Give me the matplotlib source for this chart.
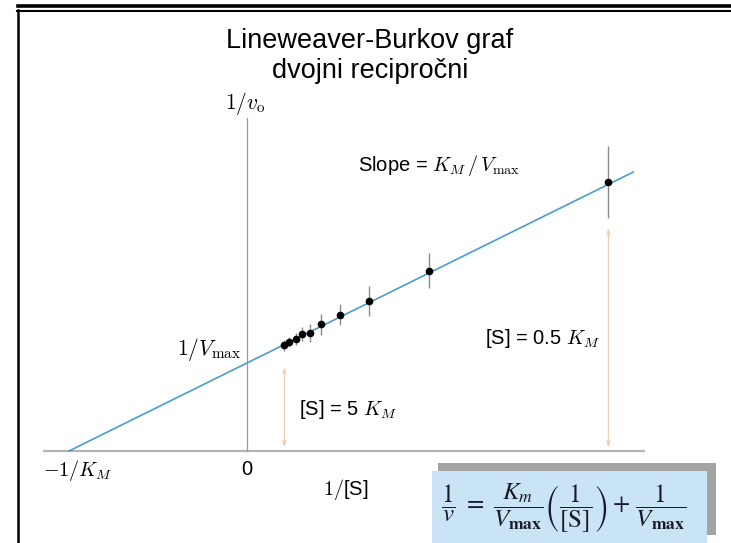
import matplotlib
matplotlib.use("Agg")
import matplotlib.pyplot as plt
from matplotlib.lines import Line2D
from matplotlib.patches import Rectangle

# 1/[S] and 1/v values in units of 1/K_M and 1/V_max
inv_s = [0.21, 0.235, 0.275, 0.31, 0.355, 0.415, 0.52, 0.685, 1.02, 2.03]
inv_v = [1.20, 1.24, 1.27, 1.33, 1.34, 1.44, 1.55, 1.70, 2.05, 3.06]
inv_v_err = [0.06, 0.06, 0.07, 0.08, 0.10, 0.12, 0.12, 0.17, 0.20, 0.41]

# fitted line end points
fit_x = [-1.0, 2.17]
fit_y = [0.0, 3.17]

# double arrows marking [S] = 5 K_M and [S] = 0.5 K_M
arrow_x = [0.21, 2.03]
arrow_lo = [0.045, 0.045]
arrow_hi = [0.95, 2.53]

W, H = 731, 543
fig = plt.figure(figsize=(W / 100, H / 100), dpi=100)
ax = fig.add_axes([0, 0, 1, 1])
ax.axis("off")

# pixel anchors of the origin and unit lengths
x0, y0, ux, uy = 247, 451, 178, 88
ax.set_xlim(-x0 / ux, (W - x0) / ux)
ax.set_ylim(-(H - y0) / uy, y0 / uy)

# axes
ax.plot([-1.146, 2.236], [0, 0], color="#b4b4b4", lw=1.6, solid_capstyle="butt")
ax.plot([0, 0], [0, 3.78], color="#9a9a9a", lw=0.9)

ax.plot(fit_x, fit_y, color="#4a9dcb", lw=1.2)
ax.errorbar(inv_s, inv_v, yerr=inv_v_err, fmt="o", color="black", ms=4.5,
            ecolor="#8c8c8c", elinewidth=1.0, capsize=0, zorder=3)

for xa, lo, hi in zip(arrow_x, arrow_lo, arrow_hi):
    ax.annotate("", xy=(xa, hi), xytext=(xa, lo),
                arrowprops=dict(arrowstyle="<->,head_length=0.35,head_width=0.12",
                                color="#f3c9aa", lw=0.8, shrinkA=0, shrinkB=0))

sans = "Liberation Sans"
kw = dict(family=sans, math_fontfamily="cm", fontsize=14.5)
ax.text(-0.006, 3.95, r"$1/v_{\rm o}$", ha="center", va="center", family=sans,
        math_fontfamily="cm", fontsize=15.5)
ax.text(0.624, 3.24, r"Slope = $K_M\,/\,V_{\rm max}$", ha="left", va="center", **kw)
ax.text(-0.034, 1.15, r"$1/V_{\rm max}$", ha="right", va="center", family=sans,
        math_fontfamily="cm", fontsize=15.5)
ax.text(1.337, 1.28, r"[S] = 0.5 $K_M$", ha="left", va="center", **kw)
ax.text(0.292, 0.466, r"[S] = 5 $K_M$", ha="left", va="center", **kw)
ax.text(-1.146, -0.227, r"$-1/K_M$", ha="left", va="center", **kw)
ax.text(0.0, -0.205, "0", ha="center", va="center", **kw)
ax.text(0.556, -0.443, r"$1/$[S]", ha="center", va="center", **kw)

# title
fig.text(370 / W, 1 - 48 / H, "Lineweaver-Burkov graf", ha="center",
         va="baseline", family=sans, fontsize=19.5)
fig.text(370 / W, 1 - 78 / H, "dvojni recipročni", ha="center",
         va="baseline", family=sans, fontsize=19.5)

# equation box with shadow
fig.add_artist(Rectangle((438 / W, 1 - 535 / H), (716 - 438) / W, (535 - 463) / H,
                         transform=fig.transFigure, color="#a4a4a4", lw=0))
fig.add_artist(Rectangle((432 / W, 0), (707 - 432) / W, (H - 471) / H,
                         transform=fig.transFigure, color="#c9e4f5", lw=0))
fig.text(564 / W, 1 - 508 / H,
         r"$\dfrac{1}{v}\ =\ \dfrac{K_m}{V_{\mathbf{max}}}\left(\dfrac{1}{[\mathrm{S}]}\right)"
         r"+\,\dfrac{1}{V_{\mathbf{max}}}$",
         ha="center", va="center", fontsize=18, math_fontfamily="stix", color="#1a1a2a")

# page frame
fig.add_artist(Line2D([18 / W, 1], [1 - 5.7 / H] * 2, color="black", lw=2.6,
                      transform=fig.transFigure))
fig.add_artist(Line2D([17 / W, 1], [1 - 11 / H] * 2, color="black", lw=1.5,
                      transform=fig.transFigure))
fig.add_artist(Line2D([18 / W] * 2, [0, 1 - 10 / H], color="black", lw=1.8,
                      transform=fig.transFigure))

fig.savefig("out.png", dpi=100)
